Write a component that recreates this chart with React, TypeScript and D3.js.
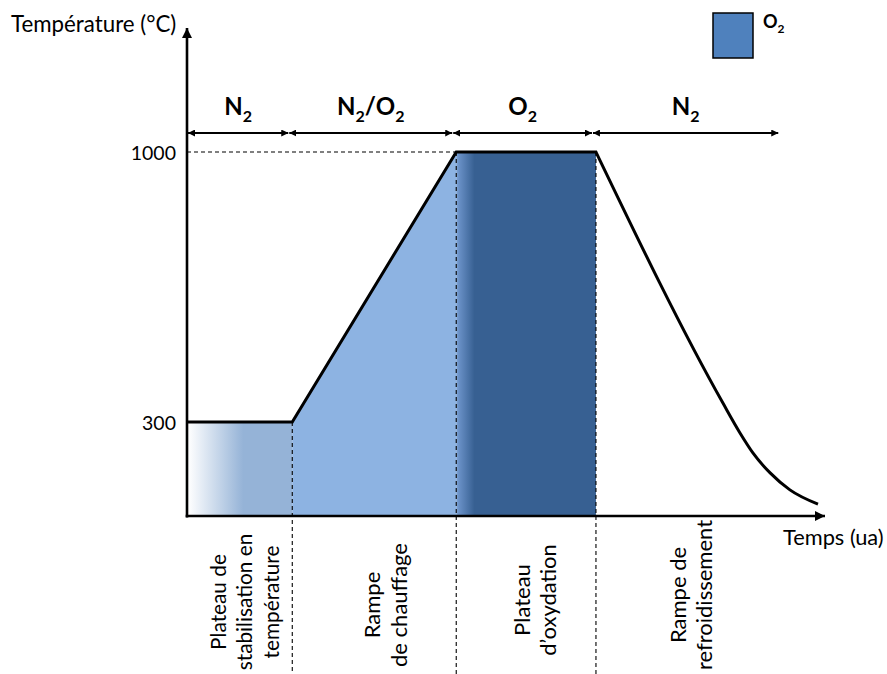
import React from 'react';
import * as d3 from 'd3';

// ---- data ----
const timePts = [0, 16.5, 42.2, 64.1, 84, 86.7, 88.7, 91.4, 94.5, 98.9];
const tempPts = [300, 300, 1000, 1000, 349, 271, 220, 168, 124, 87];
const yTicks = [300, 1000];
const phaseBounds = [0, 16.5, 42.2, 64.1, 93.3];
const gasLabels = ['N_2', 'N_2/O_2', 'O_2', 'N_2'];
const phaseNames = [
  ['Plateau de', 'stabilisation en', 'température'],
  ['Rampe', 'de chauffage'],
  ['Plateau', 'd’oxydation'],
  ['Rampe de', 'refroidissement'],
];
const phaseLabelT = [8.9, 31.0, 54.5, 78.9];
const legendLabel = 'O_2';
const yTitle = 'Température (°C)';
const xTitle = 'Temps (ua)';

const W = 887;
const H = 674;
const FONT = "Lato, 'Open Sans', sans-serif";
const labelCenterY = [602, 605, 600, 595];
const labelSize = [20.8, 22, 22, 22];

function SubText({ s, subSize, dy }: { s: string; subSize: number; dy: number }) {
  const parts = s.split(/_(\d)/);
  const out: any[] = [];
  let shifted = false;
  parts.forEach((p, i) => {
    if (p === '') return;
    if (i % 2 === 1) {
      out.push(
        <tspan key={i} fontSize={subSize} dy={dy}>
          {p}
        </tspan>
      );
      shifted = true;
    } else {
      out.push(
        <tspan key={i} dy={shifted ? -dy : 0}>
          {p}
        </tspan>
      );
      shifted = false;
    }
  });
  return <>{out}</>;
}

export default function App() {
  const x = d3.scaleLinear().domain([0, 100]).range([187, 825]);
  const y = d3.scaleLinear().domain([300, 1000]).range([422, 152]);
  const baseY = 516;

  const pts: [number, number][] = timePts.map((t, i) => [t, tempPts[i]]);
  const rise = pts.slice(0, 4);
  const fall = pts.slice(3);
  const lineLin = d3
    .line<[number, number]>()
    .x((d) => x(d[0]))
    .y((d) => y(d[1]))
    .curve(d3.curveLinear);
  const lineMono = d3
    .line<[number, number]>()
    .x((d) => x(d[0]))
    .y((d) => y(d[1]))
    .curve(d3.curveMonotoneX);
  const curvePath = (lineLin(rise) || '') + (lineMono(fall) || '').replace(/^M/, 'L');

  const rampArea = d3
    .area<[number, number]>()
    .x((d) => x(d[0]))
    .y0(baseY)
    .y1((d) => y(d[1]))(pts.slice(1, 3)) || '';

  const x0 = x(timePts[0]);
  const x1 = x(timePts[1]);
  const x2 = x(timePts[2]);
  const x3 = x(timePts[3]);

  const arrowY = 133;

  return (
    <svg
      width={W}
      height={H}
      viewBox={`0 0 ${W} ${H}`}
      style={{ position: 'absolute', left: 0, top: 0, background: '#fff' }}
      fontFamily={FONT}
    >
      <defs>
        <linearGradient id="g1" x1="0" x2="1" y1="0" y2="0">
          <stop offset="0" stopColor="#ffffff" />
          <stop offset="0.53" stopColor="#95b3d7" />
          <stop offset="1" stopColor="#95b3d7" />
        </linearGradient>
        <linearGradient id="g3" x1="0" x2="1" y1="0" y2="0">
          <stop offset="0" stopColor="#7fa5d6" />
          <stop offset="0.02" stopColor="#6990c6" />
          <stop offset="0.13" stopColor="#376092" />
          <stop offset="1" stopColor="#376092" />
        </linearGradient>
        <marker id="axHead" viewBox="0 0 10 10" refX="10" refY="5" markerWidth="11" markerHeight="10" markerUnits="userSpaceOnUse" orient="auto">
          <path d="M0,0 L10,5 L0,10 Z" fill="#000" />
        </marker>
        <marker id="smHead" viewBox="0 0 10 10" refX="10" refY="5" markerWidth="7" markerHeight="7" markerUnits="userSpaceOnUse" orient="auto-start-reverse">
          <path d="M0,0 L10,5 L0,10 Z" fill="#000" />
        </marker>
      </defs>

      {/* fills */}
      <rect x={x0 + 1} y={y(300)} width={x1 - x0 - 1} height={baseY - y(300)} fill="url(#g1)" />
      <path d={rampArea} fill="#8db3e2" />
      <rect x={x2} y={y(1000)} width={x3 - x2} height={baseY - y(1000)} fill="url(#g3)" />

      {/* dashed guide lines */}
      <line x1={x0} x2={x2} y1={y(1000)} y2={y(1000)} stroke="#000" strokeWidth={1.1} strokeDasharray="4,3" />
      <line x1={x1} x2={x1} y1={y(300)} y2={H} stroke="#000" strokeWidth={1.1} strokeDasharray="4,3" />
      <line x1={x2} x2={x2} y1={y(1000)} y2={H} stroke="#000" strokeWidth={1.1} strokeDasharray="4,3" />
      <line x1={x3} x2={x3} y1={y(1000)} y2={H} stroke="#000" strokeWidth={1.1} strokeDasharray="4,3" />

      {/* temperature curve */}
      <path d={curvePath} fill="none" stroke="#000" strokeWidth={3} strokeLinejoin="miter" />

      {/* axes */}
      <line x1={x0} x2={x0} y1={baseY + 1.5} y2={28} stroke="#000" strokeWidth={2.6} markerEnd="url(#axHead)" />
      <line x1={x0 - 1.3} x2={x(100)} y1={baseY} y2={baseY} stroke="#000" strokeWidth={2.6} markerEnd="url(#axHead)" />

      {yTicks.map((t) => (
        <text key={t} x={176} y={y(t)} textAnchor="end" dominantBaseline="central" fontSize={19.5} fill="#000">
          {t}
        </text>
      ))}

      <text x={11} y={32} fontSize={22.3} fill="#000">
        {yTitle}
      </text>
      <text x={783} y={545} fontSize={21.8} fill="#000">
        {xTitle}
      </text>

      {/* phase gas arrows */}
      {gasLabels.map((g, i) => {
        const a = i === 0 ? x(phaseBounds[i]) + 1 : x(phaseBounds[i]) - 3;
        const b = x(phaseBounds[i + 1]) - 4;
        return (
          <g key={i}>
            <line x1={a} x2={b} y1={arrowY} y2={arrowY} stroke="#000" strokeWidth={2} markerStart="url(#smHead)" markerEnd="url(#smHead)" />
            <text x={(a + b) / 2} y={115} textAnchor="middle" fontSize={24} fontWeight="bold" fill="#000">
              <SubText s={g} subSize={16} dy={7} />
            </text>
          </g>
        );
      })}

      {/* phase names */}
      {phaseNames.map((lines, i) => {
        const cx = x(phaseLabelT[i]);
        const cy = labelCenterY[i];
        const n = lines.length;
        const gap = 26.5;
        return (
          <g key={i} transform={`translate(${cx},${cy}) rotate(-90)`}>
            {lines.map((l, j) => (
              <text key={j} x={0} y={(j - (n - 1) / 2) * gap} textAnchor="middle" dominantBaseline="central" fontSize={labelSize[i]} fill="#000">
                {l}
              </text>
            ))}
          </g>
        );
      })}

      {/* legend */}
      <rect x={713} y={13} width={40} height={45} fill="#4f81bd" stroke="#000" strokeWidth={1.5} />
      <text x={763} y={28} fontSize={18} fontWeight="bold" fill="#000">
        <SubText s={legendLabel} subSize={12} dy={5} />
      </text>
    </svg>
  );
}
